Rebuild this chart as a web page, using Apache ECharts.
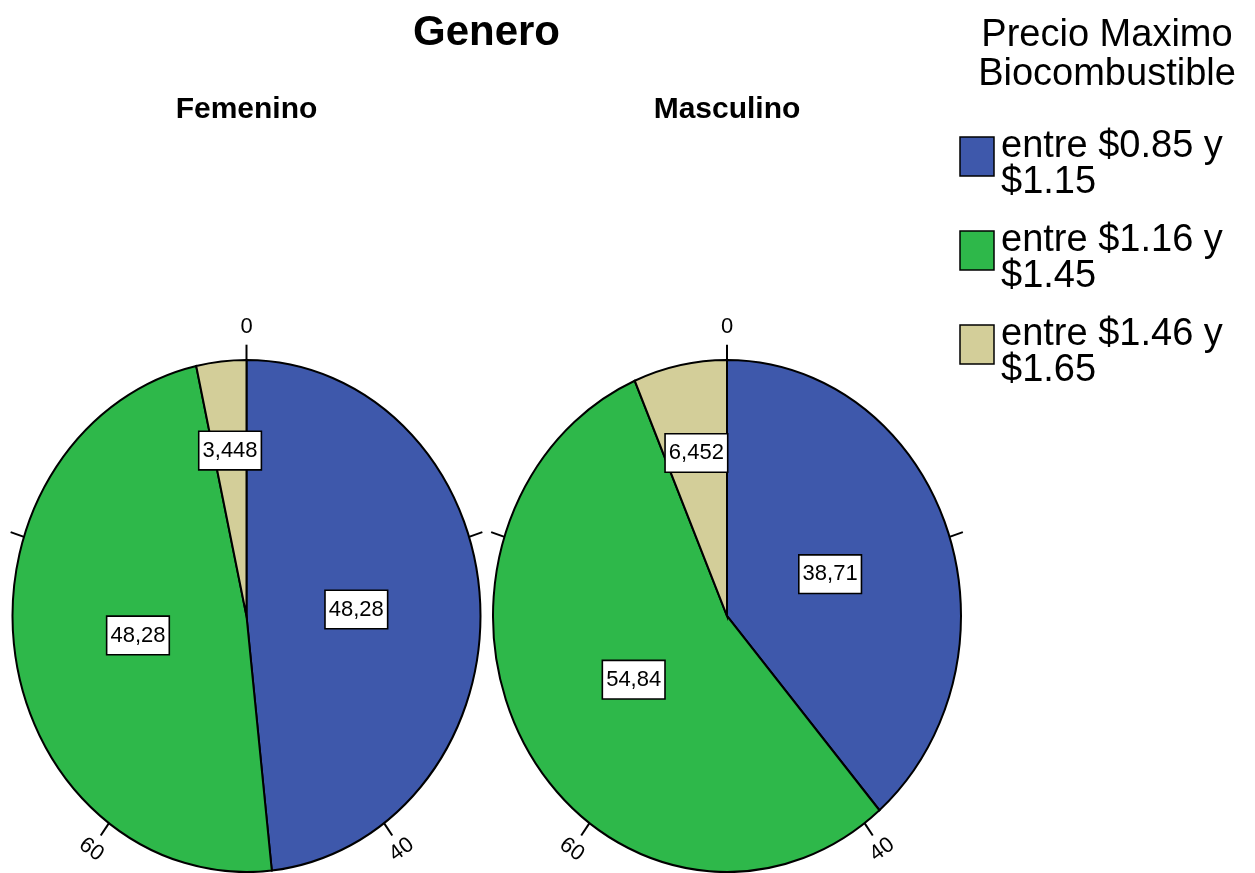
<!DOCTYPE html>
<html>
<head>
<meta charset="utf-8">
<script src="https://cdn.jsdelivr.net/npm/echarts@6/dist/echarts.min.js"></script>
<style>
  html, body { margin: 0; padding: 0; background: #ffffff; }
  #chart { width: 1255px; height: 873px; }
</style>
</head>
<body>
<div id="chart"></div>
<script>
// Price ranges (slice categories), one pie per gender group
const categories = ['entre $0.85 y $1.15', 'entre $1.16 y $1.45', 'entre $1.46 y $1.65'];
const groups = ['Femenino', 'Masculino'];
const femenino = [48.28, 48.28, 3.448];
const masculino = [38.71, 54.84, 6.452];
// Percent scale drawn around each pie
const tickValues = [0, 20, 40, 60, 80];
const tickLabels = ['0', '', '40', '60', ''];
const colors = ['#3e58ab', '#2eb84a', '#d3ce99'];
const chartTitle = 'Genero';
const legendTitle = 'Precio Maximo\nBiocombustible';

const FONT = '"Liberation Sans", Arial, Helvetica, sans-serif';
const R = 234;          // horizontal radius
const KY = 256 / 234;   // vertical stretch of the pies
const TICK = 14;
const pieCenters = [[246.5, 616], [727, 616]];

function fmt(v) { return String(v).replace('.', ','); }

function pieData(values) {
  const total = values.reduce((a, b) => a + b, 0);
  let cum = 0;
  return values.map((v, i) => {
    const item = { name: categories[i], value: [v, cum, total], itemStyle: { color: colors[i] } };
    cum += v;
    return item;
  });
}

function pieRenderer(cx, cy) {
  return function (params, api) {
    const v = api.value(0), s = api.value(1), total = api.value(2);
    const a0 = -Math.PI / 2 + 2 * Math.PI * s / total;
    const a1 = -Math.PI / 2 + 2 * Math.PI * (s + v) / total;
    const mid = (a0 + a1) / 2;
    const f = v < 10 ? 0.65 : 0.47;
    return {
      type: 'group',
      children: [
        {
          type: 'sector',
          x: cx, y: cy, scaleY: KY,
          shape: { cx: 0, cy: 0, r0: 0, r: R, startAngle: a0, endAngle: a1, clockwise: true },
          style: { fill: api.visual('color'), stroke: '#000', lineWidth: 2, strokeNoScale: true }
        },
        {
          type: 'text',
          z2: 20,
          x: cx + Math.cos(mid) * R * f,
          y: cy + Math.sin(mid) * R * KY * f,
          style: {
            text: fmt(v), fill: '#000', font: '22px ' + FONT,
            align: 'center', verticalAlign: 'middle',
            backgroundColor: '#fff', borderColor: '#000', borderWidth: 1.6,
            padding: [8, 3, 7, 3]
          }
        }
      ]
    };
  };
}

function tickRenderer(cx, cy) {
  return function (params, api) {
    const t = api.value(0);
    const th = 2 * Math.PI * t / 100;
    const sx = Math.sin(th), sy = -Math.cos(th);
    const pt = r => [cx + sx * r, cy + sy * r * KY];
    const p0 = pt(R), p1 = pt(R + TICK), lp = pt(R + 30);
    let rot = -th;
    if (th > Math.PI / 2 && th < 3 * Math.PI / 2) rot = Math.PI - th;
    const children = [{
      type: 'line', z2: 15,
      shape: { x1: p0[0], y1: p0[1], x2: p1[0], y2: p1[1] },
      style: { stroke: '#000', lineWidth: 2 }
    }];
    const txt = tickLabels[params.dataIndex];
    if (txt) {
      children.push({
        type: 'text', x: lp[0], y: lp[1], rotation: rot,
        style: { text: txt, fill: '#000', font: '22px ' + FONT, align: 'center', verticalAlign: 'middle' }
      });
    }
    return { type: 'group', children };
  };
}

const pieValues = [femenino, masculino];
const series = [];
pieValues.forEach((vals, g) => {
  const [cx, cy] = pieCenters[g];
  series.push({
    type: 'custom', name: groups[g], coordinateSystem: 'none',
    renderItem: pieRenderer(cx, cy), data: pieData(vals), silent: true
  });
  series.push({
    type: 'custom', name: groups[g] + ' escala', coordinateSystem: 'none',
    renderItem: tickRenderer(cx, cy), data: tickValues.map(t => [t]), silent: true
  });
});

// Headings and legend
const graphics = [
  { type: 'text', x: 486.5, y: 33, style: { text: chartTitle, font: 'bold 42px ' + FONT, fill: '#000', align: 'center', verticalAlign: 'middle' } },
  { type: 'text', x: 1107, y: 55, style: { text: legendTitle, font: '38px ' + FONT, lineHeight: 39, fill: '#000', align: 'center', verticalAlign: 'middle' } }
];
groups.forEach((name, g) => {
  graphics.push({ type: 'text', x: pieCenters[g][0], y: 110, style: { text: name, font: 'bold 30px ' + FONT, fill: '#000', align: 'center', verticalAlign: 'middle' } });
});
categories.forEach((name, i) => {
  const top = 137 + 94 * i;
  graphics.push({ type: 'rect', shape: { x: 960, y: top, width: 34, height: 39 }, style: { fill: colors[i], stroke: '#000', lineWidth: 1.5 } });
  graphics.push({ type: 'text', x: 1001, y: top + 28, style: { text: name.replace(' y ', ' y\n'), font: '38px ' + FONT, lineHeight: 36, fill: '#000', align: 'left', verticalAlign: 'middle' } });
});

const chart = echarts.init(document.getElementById('chart'), null, { renderer: 'canvas' });
chart.setOption({
  backgroundColor: '#fff',
  animation: false,
  series: series,
  graphic: graphics
});
</script>
</body>
</html>
